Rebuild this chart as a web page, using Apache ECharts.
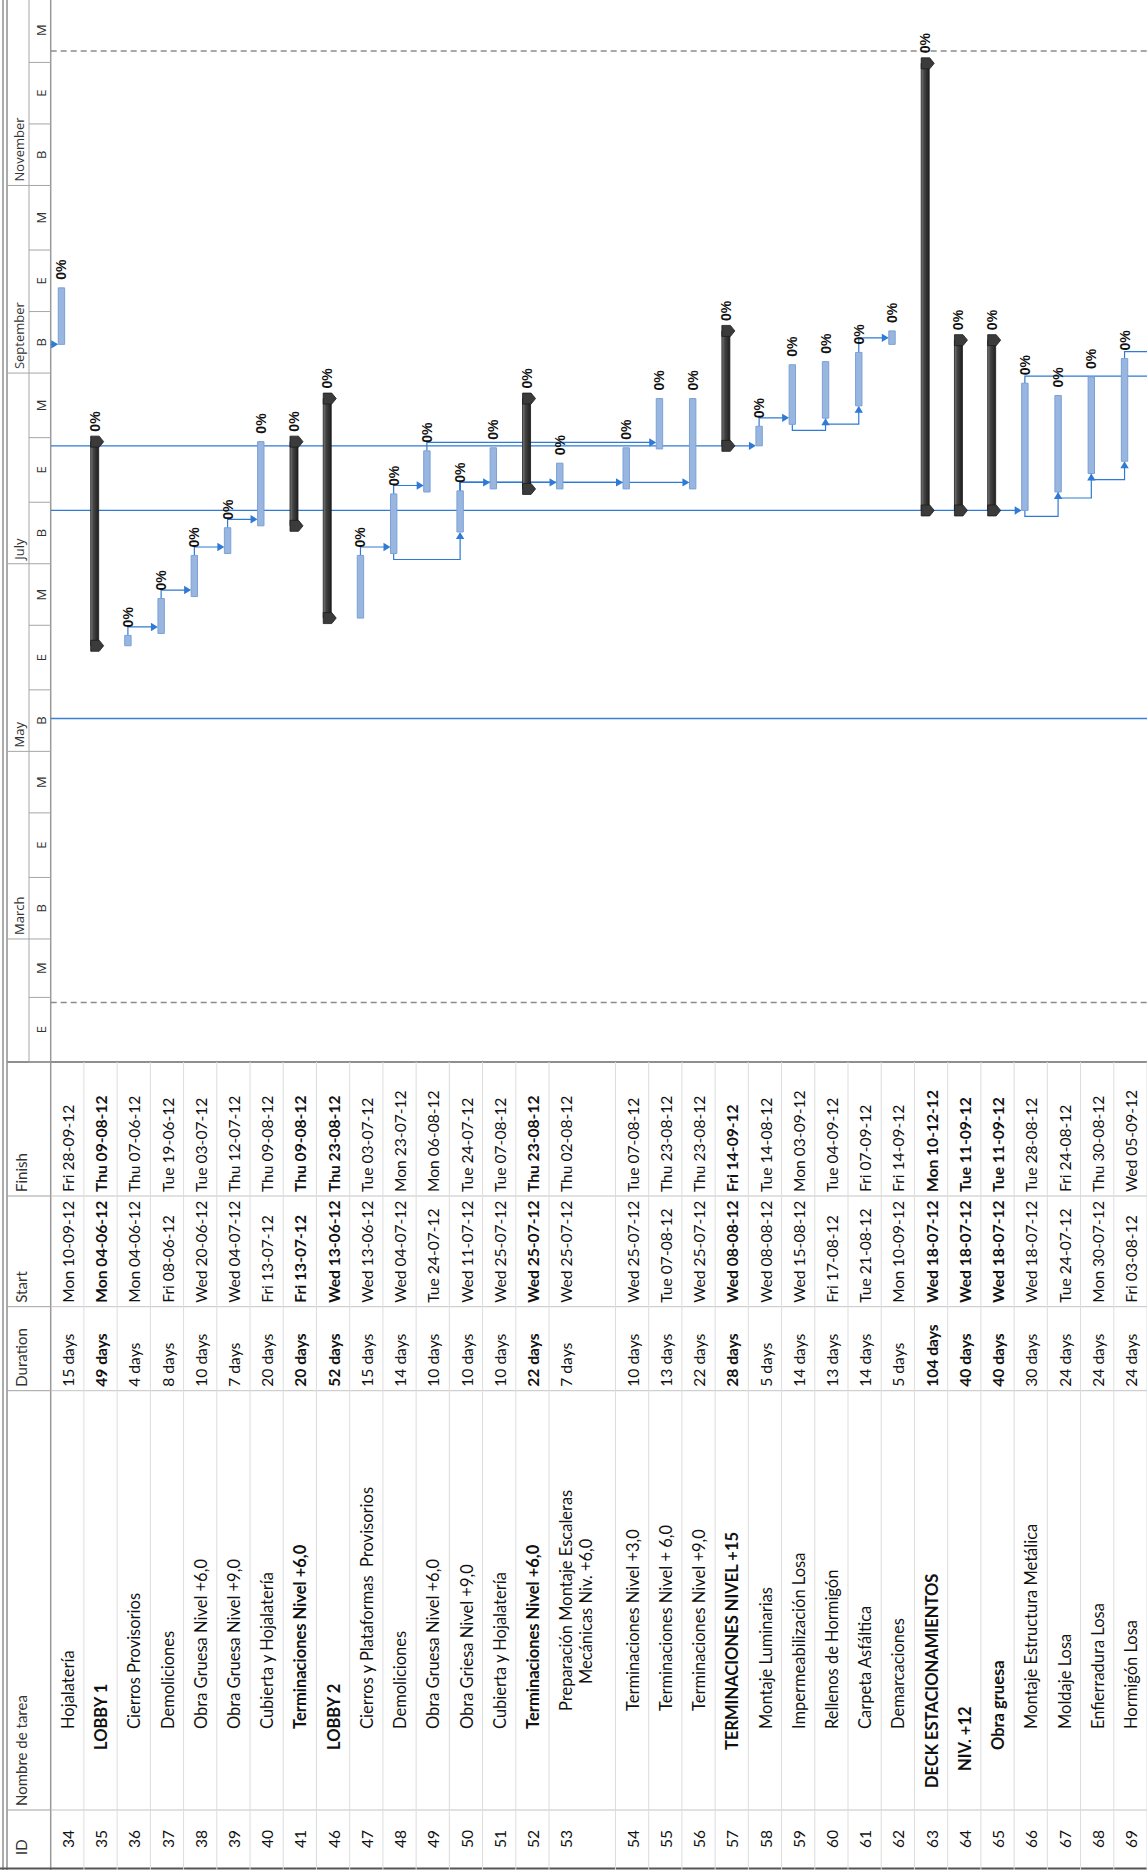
<!DOCTYPE html>
<html lang="es">
<head>
<meta charset="utf-8">
<title>Programa de obra – Gantt</title>
<script src="https://cdn.jsdelivr.net/npm/echarts@6.0.0/dist/echarts.min.js"></script>
<style>
  html, body { margin: 0; padding: 0; background: #fff; width: 1147px; height: 1870px; overflow: hidden; }
  /* The sheet is laid out in landscape and turned a quarter turn counter-clockwise. */
  #sheet { position: absolute; left: 0; top: 0; width: 1870px; height: 1147px;
           transform-origin: 0 0; transform: translate(0, 1870px) rotate(-90deg); background: #fff; }
</style>
</head>
<body>
<div id="sheet"></div>
<script>
// ---------------- Task table ----------------
const taskIds = [34, 35, 36, 37, 38, 39, 40, 41, 46, 47, 48, 49, 50, 51, 52, 53, 54, 55, 56, 57, 58, 59, 60, 61, 62, 63, 64, 65, 66, 67, 68, 69];
const taskNames = [
  'Hojalatería', 'LOBBY 1', 'Cierros Provisorios', 'Demoliciones', 'Obra Gruesa Nivel +6,0',
  'Obra Gruesa Nivel +9,0', 'Cubierta y Hojalatería', 'Terminaciones Nivel +6,0', 'LOBBY 2',
  'Cierros y Plataformas  Provisorios', 'Demoliciones', 'Obra Gruesa Nivel +6,0', 'Obra Griesa Nivel +9,0',
  'Cubierta y Hojalatería', 'Terminaciones Nivel +6,0', 'Preparación Montaje Escaleras\nMecánicas Niv. +6,0',
  'Terminaciones Nivel +3,0', 'Terminaciones Nivel + 6,0', 'Terminaciones Nivel +9,0', 'TERMINACIONES NIVEL +15',
  'Montaje Luminarias', 'Impermeabilización Losa', 'Rellenos de Hormigón', 'Carpeta Asfáltica', 'Demarcaciones',
  'DECK ESTACIONAMIENTOS', 'NIV. +12', 'Obra gruesa', 'Montaje Estructura Metálica', 'Moldaje Losa',
  'Enfierradura Losa', 'Hormigón Losa'
];
const taskDurations = ['15 days', '49 days', '4 days', '8 days', '10 days', '7 days', '20 days', '20 days', '52 days',
  '15 days', '14 days', '10 days', '10 days', '10 days', '22 days', '7 days', '10 days', '13 days', '22 days', '28 days',
  '5 days', '14 days', '13 days', '14 days', '5 days', '104 days', '40 days', '40 days', '30 days', '24 days', '24 days', '24 days'];
const taskStarts = ['Mon 10-09-12', 'Mon 04-06-12', 'Mon 04-06-12', 'Fri 08-06-12', 'Wed 20-06-12', 'Wed 04-07-12',
  'Fri 13-07-12', 'Fri 13-07-12', 'Wed 13-06-12', 'Wed 13-06-12', 'Wed 04-07-12', 'Tue 24-07-12', 'Wed 11-07-12',
  'Wed 25-07-12', 'Wed 25-07-12', 'Wed 25-07-12', 'Wed 25-07-12', 'Tue 07-08-12', 'Wed 25-07-12', 'Wed 08-08-12',
  'Wed 08-08-12', 'Wed 15-08-12', 'Fri 17-08-12', 'Tue 21-08-12', 'Mon 10-09-12', 'Wed 18-07-12', 'Wed 18-07-12',
  'Wed 18-07-12', 'Wed 18-07-12', 'Tue 24-07-12', 'Mon 30-07-12', 'Fri 03-08-12'];
const taskFinishes = ['Fri 28-09-12', 'Thu 09-08-12', 'Thu 07-06-12', 'Tue 19-06-12', 'Tue 03-07-12', 'Thu 12-07-12',
  'Thu 09-08-12', 'Thu 09-08-12', 'Thu 23-08-12', 'Tue 03-07-12', 'Mon 23-07-12', 'Mon 06-08-12', 'Tue 24-07-12',
  'Tue 07-08-12', 'Thu 23-08-12', 'Thu 02-08-12', 'Tue 07-08-12', 'Thu 23-08-12', 'Thu 23-08-12', 'Fri 14-09-12',
  'Tue 14-08-12', 'Mon 03-09-12', 'Tue 04-09-12', 'Fri 07-09-12', 'Fri 14-09-12', 'Mon 10-12-12', 'Tue 11-09-12',
  'Tue 11-09-12', 'Tue 28-08-12', 'Fri 24-08-12', 'Thu 30-08-12', 'Wed 05-09-12'];
const taskComplete = [0, 0, 0, 0, 0, 0, 0, 0, 0, 0, 0, 0, 0, 0, 0, 0, 0, 0, 0, 0, 0, 0, 0, 0, 0, 0, 0, 0, 0, 0, 0, 0];
const summaryTaskIds = [35, 41, 46, 52, 57, 63, 64, 65];
const outlineLevels = [3, 2, 3, 3, 3, 3, 3, 3, 2, 3, 3, 3, 3, 3, 3, 4, 4, 4, 4, 2, 3, 3, 3, 3, 3, 0, 1, 2, 3, 3, 3, 3];
const rowLines = [1, 1, 1, 1, 1, 1, 1, 1, 1, 1, 1, 1, 1, 1, 1, 2, 1, 1, 1, 1, 1, 1, 1, 1, 1, 1, 1, 1, 1, 1, 1, 1];

// Dependencies [predecessor, successor, type]; null = task outside this sheet
const dependencies = [
  [null, 34, 'FS'],
  [36, 37, 'FS'], [37, 38, 'FS'], [38, 39, 'FS'], [39, 40, 'FS'],
  [47, 48, 'FS'], [48, 49, 'FS'], [48, 50, 'SS'], [50, 51, 'FS'], [50, 53, 'FS'], [50, 54, 'FS'], [50, 56, 'FS'],
  [49, 55, 'FS'],
  [null, 58, 'FS'], [58, 59, 'FS'], [59, 60, 'SS'], [60, 61, 'SS'], [61, 62, 'FS'],
  [null, 66, 'FS'], [66, 67, 'SS'], [67, 68, 'SS'], [68, 69, 'SS'], [66, null, 'FS'], [69, null, 'FS']
];

// ---------------- Timescale ----------------
const majorTierStarts = ['2012-03-01', '2012-05-01', '2012-07-01', '2012-09-01', '2012-11-01'];
const majorTierLabels = ['March', 'May', 'July', 'September', 'November'];
const minorTierStarts = ['2012-01-21', '2012-02-11', '2012-03-01', '2012-03-21', '2012-04-11', '2012-05-01',
  '2012-05-21', '2012-06-11', '2012-07-01', '2012-07-21', '2012-08-11', '2012-09-01', '2012-09-21', '2012-10-11',
  '2012-11-01', '2012-11-21', '2012-12-11', '2013-01-01'];
const minorTierLabels = ['E', 'M', 'B', 'E', 'M', 'B', 'E', 'M', 'B', 'E', 'M', 'B', 'E', 'M', 'B', 'E', 'M'];

const viewStart = '2012-01-21';
const viewDays = 345.3;
const projectStart = '2012-02-09T08:00';
const projectFinish = '2012-12-14T17:00';
const statusDate = '2012-05-11T17:00';

// ---------------- Helpers ----------------
const HOUR = 3600000, DAY = 24 * HOUR;
function isoToTs(s) {
  const [d, t] = s.split('T');
  const [y, m, dd] = d.split('-').map(Number);
  const [hh, mm] = t ? t.split(':').map(Number) : [0, 0];
  return Date.UTC(y, m - 1, dd, hh, mm);
}
function labelToTs(label, hour) {           // 'Mon 10-09-12' -> timestamp at given hour
  const [d, m, y] = label.split(' ')[1].split('-').map(Number);
  return Date.UTC(2000 + y, m - 1, d, hour);
}

// ---------------- Layout ----------------
const GRID_LEFT = 808, GRID_TOP = 50.7, ROW_H = 33.33;
const HEADER_TOP = 7, TIER_SPLIT = 29;
const COL_ID = 5, COL_NAME = 60, COL_DUR = 479.3, COL_START = 563.3, COL_FINISH = 674;
const NAME_INDENT = [82, 99, 120, 141, 159];
const WRAP_INDENT = 27;                    // continuation line of a wrapped name
const BAR_OFFSET = 10.8 / ROW_H;            // bar centre, in rows below the row top
const TEXT_FONT = 'Lato';
const LINK_COLOR = '#2f7ad6';

const axisMin = isoToTs(viewStart);
const axisMax = axisMin + viewDays * DAY;

// row slots (row 53 wraps onto two lines)
const rowSlots = [];
let acc = 0;
rowLines.forEach(n => { rowSlots.push(acc); acc += n; });
const totalSlots = acc;

const isSummary = taskIds.map(id => summaryTaskIds.indexOf(id) >= 0);
const startTs = taskStarts.map(s => labelToTs(s, 8));
const finishTs = taskFinishes.map(s => labelToTs(s, 17));

const barData = taskIds.map((id, i) => [startTs[i], finishTs[i], rowSlots[i], isSummary[i] ? 1 : 0, taskComplete[i]]);
const tableData = taskIds.map((id, i) => [axisMin, rowSlots[i], rowLines[i]]);

// dependency geometry values: predStart, predFinish, predSlot, succStart, succSlot, kind
// kind: 0 FS, 1 SS, 2 from outside (above), 3 to outside (below)
const linkData = dependencies.map(([p, s, type]) => {
  const pi = taskIds.indexOf(p), si = taskIds.indexOf(s);
  if (p === null) return [startTs[si], startTs[si], -1, startTs[si], rowSlots[si], 2];
  if (s === null) return [startTs[pi], finishTs[pi], rowSlots[pi], finishTs[pi], totalSlots, 3];
  return [startTs[pi], finishTs[pi], rowSlots[pi], startTs[si], rowSlots[si], type === 'SS' ? 1 : 0];
});

const referenceLines = [
  [isoToTs(projectStart), 0],
  [isoToTs(projectFinish), 0],
  [isoToTs(statusDate), 1]
];

const minorData = minorTierLabels.map((lab, i) => [isoToTs(minorTierStarts[i]), isoToTs(minorTierStarts[i + 1])]);
const majorData = majorTierLabels.map((lab, i) => [isoToTs(majorTierStarts[i])]);

// ---------------- Renderers ----------------
function txt(text, x, y, opt) {
  return {
    type: 'text',
    style: Object.assign({
      text: text, x: x, y: y, fill: '#111', fontFamily: TEXT_FONT, fontSize: 16.5,
      align: 'left', verticalAlign: 'middle'
    }, opt || {})
  };
}
function line(x1, y1, x2, y2, stroke, w, dash) {
  return { type: 'line', shape: { x1, y1, x2, y2 },
    style: { stroke: stroke, lineWidth: w || 1, lineDash: dash || null } };
}

function renderTableRow(params, api) {
  const i = params.dataIndex;
  const top = api.coord([api.value(0), api.value(1)])[1];
  const bottom = api.coord([api.value(0), api.value(1) + api.value(2)])[1];
  const cy = top + ROW_H / 2 + 0.5;
  const w = isSummary[i] ? 'bold' : 'normal';
  const dateFont = { fontWeight: w, fontSize: 15.6 };
  const children = [line(0, bottom, GRID_LEFT, bottom, '#dcdcdc', 1)];
  children.push(txt(String(taskIds[i]), 31, cy, { align: 'center', fontSize: 15.6 }));
  taskNames[i].split('\n').forEach((ln, k) => {
    children.push(txt(ln, NAME_INDENT[outlineLevels[i]] + (k ? WRAP_INDENT : 0), cy + k * 20, { fontWeight: w }));
  });
  children.push(txt(taskDurations[i], COL_DUR + 4, cy, dateFont));
  children.push(txt(taskStarts[i], COL_START + 4, cy, dateFont));
  children.push(txt(taskFinishes[i], COL_FINISH + 4, cy, dateFont));
  return { type: 'group', children };
}

function renderMinorTier(params, api) {
  const i = params.dataIndex;
  const x0 = api.coord([api.value(0), 0])[0];
  const x1 = api.coord([api.value(1), 0])[0];
  return { type: 'group', children: [
    line(x0, TIER_SPLIT, x0, GRID_TOP, '#a6a6a6', 1),
    txt(minorTierLabels[i], (x0 + x1) / 2, 40.5, { align: 'center', fontSize: 13, fill: '#333', fontFamily: 'Open Sans' })
  ]};
}
function renderMajorTier(params, api) {
  const i = params.dataIndex;
  const x0 = api.coord([api.value(0), 0])[0];
  return { type: 'group', children: [
    line(x0, HEADER_TOP, x0, TIER_SPLIT, '#a6a6a6', 1),
    txt(majorTierLabels[i], x0 + 4, 19, { fontSize: 13, fill: '#333', fontFamily: 'Open Sans' })
  ]};
}

function renderReference(params, api) {
  const x = api.coord([api.value(0), 0])[0];
  const y0 = api.coord([api.value(0), 0])[1];
  const y1 = api.coord([api.value(0), totalSlots])[1];
  return api.value(1) === 1
    ? line(x, y0, x, y1, '#3a7fd5', 1.6)
    : line(x, y0, x, y1, '#8c8c8c', 1.4, [6, 4]);
}

function arrowDown(x, tipY) {
  return { type: 'polygon', shape: { points: [[x, tipY], [x - 4.2, tipY - 7], [x + 4.2, tipY - 7]] },
    style: { fill: LINK_COLOR } };
}
function arrowRight(tipX, y) {
  return { type: 'polygon', shape: { points: [[tipX, y], [tipX - 7, y - 4.2], [tipX - 7, y + 4.2]] },
    style: { fill: LINK_COLOR } };
}
function path(points) {
  return { type: 'polyline', shape: { points }, style: { stroke: LINK_COLOR, lineWidth: 1.2, fill: null } };
}

function renderLink(params, api) {
  const kind = api.value(5);
  const pS = api.coord([api.value(0), 0])[0];
  const pF = api.coord([api.value(1), 0])[0];
  const sS = api.coord([api.value(3), 0])[0];
  const yP = api.coord([0, api.value(2) + BAR_OFFSET])[1];
  const yS = api.coord([0, api.value(4) + BAR_OFFSET])[1];
  const top = api.coord([0, 0])[1];
  const bottom = api.coord([0, totalSlots])[1];
  const halfBar = 3.2;
  if (kind === 2) {               // coming from a task listed above this sheet
    const tip = yS - halfBar;
    return { type: 'group', children: [path([[sS, top], [sS, tip - 6]]), arrowDown(sS, tip)] };
  }
  if (kind === 3) {               // leaving to a task listed below this sheet
    const xd = pF + 7;
    return path([[pF, yP], [xd, yP], [xd, bottom]]);
  }
  if (kind === 1) {               // start-to-start
    const xl = pS - 6;
    return { type: 'group', children: [path([[pS, yP], [xl, yP], [xl, yS], [sS - 6, yS]]), arrowRight(sS, yS)] };
  }
  const xd = sS + 6.5;            // finish-to-start
  const tip = yS - halfBar;
  return { type: 'group', children: [path([[pF, yP], [xd, yP], [xd, tip - 6]]), arrowDown(xd, tip)] };
}

function summaryCap(c, top, bot) {
  return { type: 'polygon',
    shape: { points: [[c - 5.5, top], [c + 5.5, top], [c + 5.5, bot + 0.5], [c, bot + 5], [c - 5.5, bot + 0.5]] },
    style: { fill: '#3b3b3b', stroke: '#1c1c1c', lineWidth: 0.8 } };
}

const pctStyle = { fontFamily: 'Liberation Sans', fontWeight: 'bold', fontSize: 14, fill: '#111' };

function renderBar(params, api) {
  const x0 = api.coord([api.value(0), 0])[0];
  const x1 = api.coord([api.value(1), 0])[0];
  const yc = api.coord([0, api.value(2) + BAR_OFFSET])[1];
  const pct = api.value(4) + '%';
  if (api.value(3) === 1) {
    const top = yc - 4, bot = yc + 4;
    return { type: 'group', children: [
      { type: 'rect', shape: { x: x0, y: top, width: x1 - x0, height: bot - top },
        style: { fill: new echarts.graphic.LinearGradient(0, 0, 0, 1, [
          { offset: 0, color: '#7d7d7d' }, { offset: 0.35, color: '#444' }, { offset: 1, color: '#1f1f1f' }]),
          stroke: '#1c1c1c', lineWidth: 0.8 } },
      summaryCap(x0, top, bot),
      summaryCap(x1, top, bot),
      txt(pct, x1 + 10, yc, pctStyle)
    ]};
  }
  return { type: 'group', children: [
    { type: 'rect', shape: { x: x0, y: yc - 3.2, width: Math.max(x1 - x0, 2), height: 6.4 },
      style: { fill: '#98b6df', stroke: '#7ba1d5', lineWidth: 1 } },
    txt(pct, x1 + 8, yc, pctStyle)
  ]};
}

// ---------------- Static frame (header row and rules) ----------------
const headerFont = { fontFamily: TEXT_FONT, fontSize: 15, fill: '#333', verticalAlign: 'middle' };
const frame = [
  { type: 'line', shape: { x1: 0, y1: 3, x2: 1870, y2: 3 }, style: { stroke: '#8f8f8f', lineWidth: 1.5 } },
  { type: 'line', shape: { x1: 0, y1: HEADER_TOP, x2: 1870, y2: HEADER_TOP }, style: { stroke: '#8f8f8f', lineWidth: 1.5 } },
  { type: 'line', shape: { x1: 0, y1: GRID_TOP, x2: 1870, y2: GRID_TOP }, style: { stroke: '#9a9a9a', lineWidth: 1.5 } },
  { type: 'line', shape: { x1: GRID_LEFT, y1: TIER_SPLIT, x2: 1870, y2: TIER_SPLIT }, style: { stroke: '#a6a6a6', lineWidth: 1 } },
  { type: 'line', shape: { x1: GRID_LEFT, y1: HEADER_TOP, x2: GRID_LEFT, y2: 1147 }, style: { stroke: '#8f8f8f', lineWidth: 2 } },
  { type: 'line', shape: { x1: 1.5, y1: 0, x2: 1.5, y2: 1147 }, style: { stroke: '#555', lineWidth: 2 } }
];
[COL_NAME, COL_DUR, COL_START, COL_FINISH].forEach(x => {
  frame.push({ type: 'line', shape: { x1: x, y1: GRID_TOP, x2: x, y2: 1147 }, style: { stroke: '#c4c4c4', lineWidth: 1 } });
  frame.push({ type: 'line', shape: { x1: x, y1: HEADER_TOP, x2: x, y2: GRID_TOP }, style: { stroke: '#a0a0a0', lineWidth: 1 } });
});
[['ID', COL_ID + 10], ['Nombre de tarea', COL_NAME + 4], ['Duration', COL_DUR + 4], ['Start', COL_START + 4], ['Finish', COL_FINISH + 4]]
  .forEach(([t, x]) => frame.push({ type: 'text', style: Object.assign({ text: t, x: x, y: 20.5 }, headerFont) }));

// ---------------- Chart ----------------
const chart = echarts.init(document.getElementById('sheet'), null, { renderer: 'svg', width: 1870, height: 1147 });
chart.setOption({
  animation: false,
  backgroundColor: '#fff',
  grid: { left: GRID_LEFT, top: GRID_TOP, width: 1870 - GRID_LEFT, height: totalSlots * ROW_H },
  xAxis: { type: 'time', min: axisMin, max: axisMax, show: false },
  yAxis: { type: 'value', min: 0, max: totalSlots, inverse: true, show: false },
  graphic: { elements: frame },
  series: [
    { type: 'custom', name: 'table', renderItem: renderTableRow, data: tableData, clip: false, silent: true, z: 1 },
    { type: 'custom', name: 'minorTier', renderItem: renderMinorTier, data: minorData, clip: false, silent: true, z: 1 },
    { type: 'custom', name: 'majorTier', renderItem: renderMajorTier, data: majorData, clip: false, silent: true, z: 1 },
    { type: 'custom', name: 'reference', renderItem: renderReference, data: referenceLines, clip: false, silent: true, z: 2 },
    { type: 'custom', name: 'links', renderItem: renderLink, data: linkData, clip: true, silent: true, z: 3 },
    { type: 'custom', name: 'tasks', renderItem: renderBar, data: barData, clip: false, silent: true, z: 4 }
  ]
});
</script>
</body>
</html>
